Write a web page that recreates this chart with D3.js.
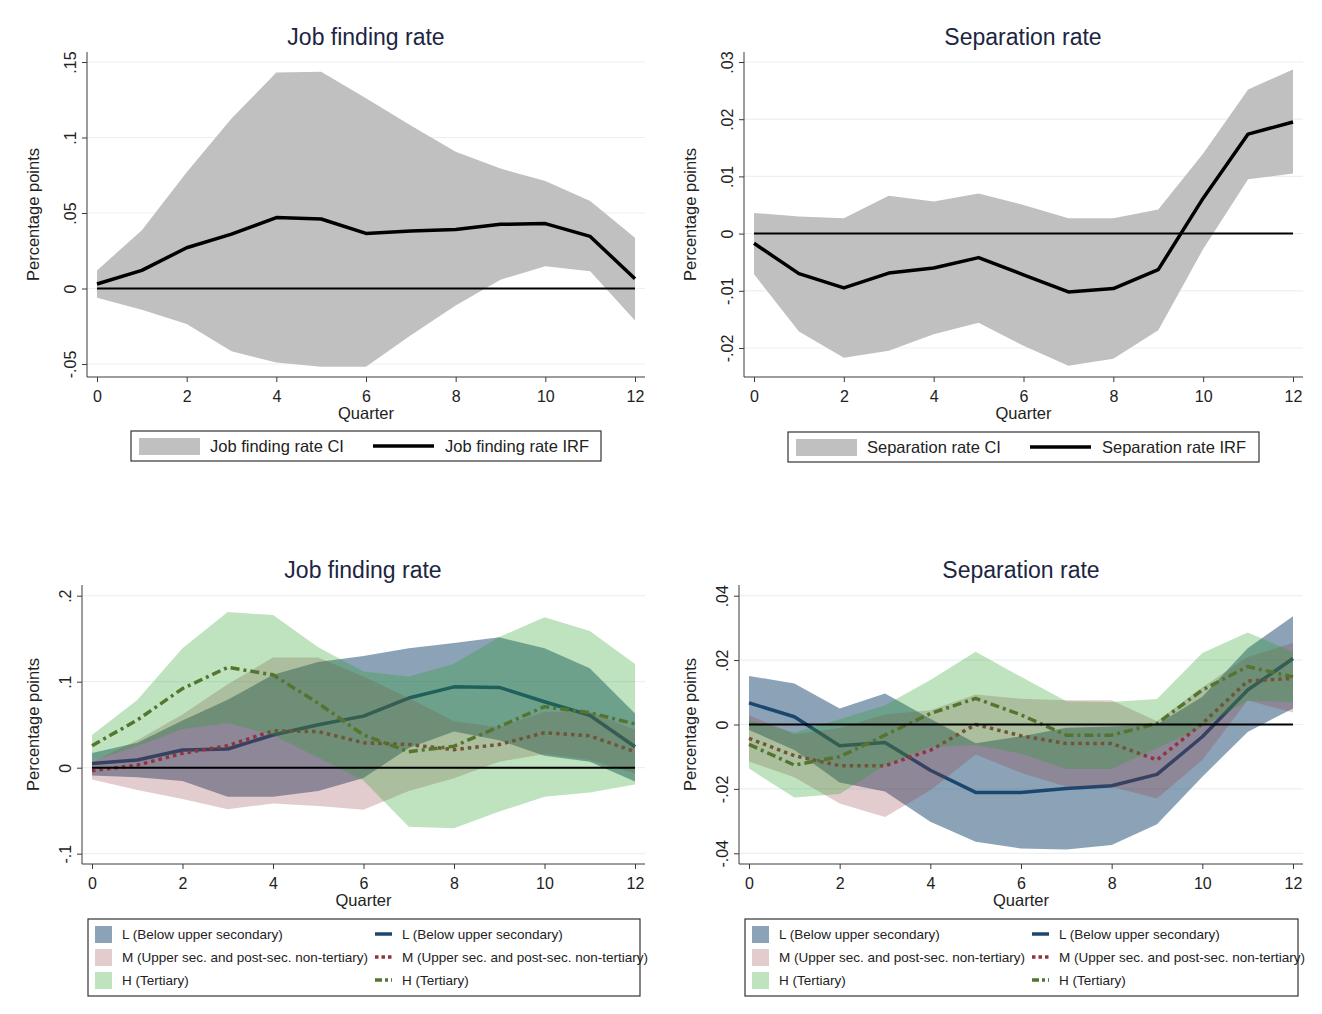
<!DOCTYPE html>
<html><head><meta charset="utf-8">
<script src="https://cdn.jsdelivr.net/npm/d3@7"></script>
<style>
html,body{margin:0;padding:0;background:#fff;}
text{font-family:"Liberation Sans",Arial,Helvetica,sans-serif;}
</style></head>
<body>
<svg id="chart" width="1322" height="1014"></svg>
<script>
// ---------------- DATA ----------------
const quarters = [0,1,2,3,4,5,6,7,8,9,10,11,12];
const xTicks = [0,2,4,6,8,10,12];

// Top-left: Job finding rate (aggregate)
const jfIRF = [0.003,0.012,0.027,0.036,0.047,0.046,0.0365,0.038,0.039,0.0425,0.043,0.0345,0.0064];
const jfLo  = [-0.0062,-0.014,-0.0235,-0.0416,-0.049,-0.0518,-0.0518,-0.031,-0.0113,0.0058,0.0148,0.0115,-0.0212];
const jfHi  = [0.012,0.0385,0.077,0.1126,0.143,0.1436,0.126,0.108,0.0905,0.0794,0.0712,0.058,0.0336];
const jfYTicks = [-0.05,0,0.05,0.1,0.15];
const jfYLabels = ["-.05","0",".05",".1",".15"];

// Top-right: Separation rate (aggregate)
const srIRF = [-0.0017,-0.007,-0.0095,-0.0069,-0.006,-0.0042,-0.0072,-0.0102,-0.0096,-0.0063,0.0062,0.0174,0.0195];
const srLo  = [-0.0071,-0.0171,-0.0217,-0.0205,-0.0176,-0.0156,-0.0196,-0.0231,-0.0219,-0.0169,-0.0027,0.0095,0.0105];
const srHi  = [0.0036,0.003,0.0027,0.0066,0.0056,0.007,0.005,0.0027,0.0027,0.0042,0.014,0.0252,0.0287];
const srYTicks = [-0.02,-0.01,0,0.01,0.02,0.03];
const srYLabels = ["-.02","-.01","0",".01",".02",".03"];

// Bottom-left: Job finding rate by education
const jfL   = [0.005,0.009,0.0205,0.0217,0.038,0.05,0.06,0.081,0.094,0.0934,0.0767,0.061,0.0244];
const jfLlo = [-0.009,-0.011,-0.0155,-0.0337,-0.0337,-0.027,-0.012,0.023,0.042,0.032,0.014,0.007,-0.016];
const jfLhi = [0.017,0.029,0.055,0.079,0.108,0.123,0.13,0.139,0.145,0.1516,0.139,0.1155,0.063];
const jfM   = [-0.0035,0.003,0.0167,0.0256,0.043,0.042,0.029,0.027,0.021,0.027,0.0407,0.037,0.0186];
const jfMlo = [-0.0136,-0.026,-0.0364,-0.0484,-0.0415,-0.0446,-0.049,-0.027,-0.0124,0.007,0.016,0.009,-0.0066];
const jfMhi = [0.0066,0.032,0.062,0.097,0.128,0.128,0.106,0.081,0.054,0.047,0.065,0.065,0.044];
const jfH   = [0.0256,0.0554,0.092,0.1167,0.108,0.075,0.038,0.0186,0.025,0.0477,0.071,0.064,0.0508];
const jfHlo = [0.008,0.025,0.045,0.052,0.038,0.012,-0.015,-0.0686,-0.0705,-0.051,-0.0337,-0.0287,-0.0194];
const jfHhi = [0.038,0.0787,0.139,0.181,0.1775,0.14,0.112,0.106,0.121,0.152,0.175,0.159,0.1205];
const jfEdYTicks = [-0.1,0,0.1,0.2];
const jfEdYLabels = ["-.1","0",".1",".2"];

// Bottom-right: Separation rate by education
const srL   = [0.0067,0.0024,-0.0066,-0.0056,-0.0142,-0.0211,-0.0211,-0.0199,-0.019,-0.0155,-0.0038,0.0107,0.0205];
const srLlo = [-0.0017,-0.0079,-0.018,-0.0208,-0.0302,-0.0364,-0.0385,-0.0388,-0.0374,-0.031,-0.0162,-0.0023,0.005];
const srLhi = [0.0151,0.0127,0.005,0.0096,0.0018,-0.0058,-0.0037,-0.001,-0.0006,0.0,0.0086,0.0237,0.0336];
const srM   = [-0.0043,-0.0097,-0.0128,-0.0128,-0.008,0.0,-0.0035,-0.0059,-0.0059,-0.011,0.0003,0.0135,0.0143];
const srMlo = [-0.0115,-0.0164,-0.0245,-0.0287,-0.0204,-0.0093,-0.015,-0.0193,-0.0193,-0.023,-0.011,0.0075,0.0037];
const srMhi = [0.0029,-0.003,-0.0011,0.0031,0.0044,0.0093,0.008,0.0075,0.0075,0.001,0.0116,0.021,0.0253];
const srH   = [-0.0062,-0.0126,-0.010,-0.0033,0.0034,0.0081,0.003,-0.0033,-0.0033,0.0003,0.0107,0.018,0.0148];
const srHlo = [-0.0137,-0.0227,-0.0216,-0.0126,-0.007,-0.0064,-0.009,-0.0138,-0.0138,-0.0073,-0.0008,0.0074,0.007];
const srHhi = [0.0013,-0.0025,0.0016,0.006,0.0138,0.0226,0.0148,0.0072,0.007,0.0079,0.0222,0.0286,0.0226];
const srEdYTicks = [-0.04,-0.02,0,0.02,0.04];
const srEdYLabels = ["-.04","-.02","0",".02",".04"];

const groupNames = ["L (Below upper secondary)","M (Upper sec. and post-sec. non-tertiary)","H (Tertiary)"];

// ---------------- STYLES ----------------
const svg = d3.select("#chart");
const titleColor = "#1c2541";
const axisColor = "#3a3a3a";
const gridColor = "#e9f1f3";
const grp = [
  {fill:"#1a476f", op:0.5,  stroke:"#1a476f", dash:null},
  {fill:"#90353b", op:0.25, stroke:"#90353b", dash:"3.5,4"},
  {fill:"#2ca02c", op:0.3,  stroke:"#55752f", dash:"9,4,3,4"}
];

function panel(cfg){
  const g = svg.append("g");
  const x = d3.scaleLinear().domain([0,12]).range([cfg.x0, cfg.x12]);
  const y = d3.scaleLinear().domain(cfg.yDom).range(cfg.yRange);
  // grid
  g.selectAll(".grid").data(cfg.yTicks).enter().append("line")
    .attr("x1", cfg.left).attr("x2", cfg.right)
    .attr("y1", d=>y(d)).attr("y2", d=>y(d))
    .attr("stroke", gridColor).attr("stroke-width",1.2);
  // y axis
  const yAxis = d3.axisLeft(y).tickValues(cfg.yTicks).tickSize(5)
      .tickFormat((d,i)=>cfg.yLabels[i]);
  const ya = g.append("g").attr("transform",`translate(${cfg.left},0)`).call(yAxis);
  ya.select(".domain").attr("d",`M0,${cfg.top}V${cfg.bottom}`).attr("stroke",axisColor);
  ya.selectAll(".tick line").attr("stroke",axisColor);
  ya.selectAll(".tick text")
    .attr("x",null).attr("dy",null)
    .attr("transform","translate(-11,0) rotate(-90)")
    .attr("text-anchor","middle")
    .attr("font-size",16).attr("fill","#222")
    .attr("font-family","Liberation Sans, Arial, sans-serif");
  // x axis
  const xAxis = d3.axisBottom(x).tickValues(xTicks).tickSize(5);
  const xa = g.append("g").attr("transform",`translate(0,${cfg.bottom})`).call(xAxis);
  xa.select(".domain").attr("d",`M${cfg.left},0H${cfg.right}`).attr("stroke",axisColor);
  xa.selectAll(".tick line").attr("stroke",axisColor);
  xa.selectAll(".tick text").attr("y",20).attr("dy","0.32em")
    .attr("font-size",16).attr("fill","#222")
    .attr("font-family","Liberation Sans, Arial, sans-serif");
  // labels
  g.append("text").attr("x",(cfg.x0+cfg.x12)/2).attr("y",cfg.bottom+42)
    .attr("text-anchor","middle").attr("font-size",16.5).attr("fill","#222").text("Quarter");
  g.append("text").attr("transform",`translate(${cfg.ylabX},${(cfg.top+cfg.bottom)/2}) rotate(-90)`)
    .attr("text-anchor","middle").attr("font-size",16.5).attr("fill","#222").text("Percentage points");
  g.append("text").attr("x",cfg.titleX).attr("y",cfg.titleY)
    .attr("text-anchor","middle").attr("font-size",23).attr("fill",titleColor).text(cfg.title);

  const area = d3.area().x((d,i)=>x(quarters[i])).y0(d=>y(d[0])).y1(d=>y(d[1]));
  const line = d3.line().x((d,i)=>x(quarters[i])).y(d=>y(d));
  const zero = quarters.map(()=>0);

  if(cfg.type === "single"){
    g.append("path").datum(cfg.lo.map((v,i)=>[v,cfg.hi[i]])).attr("d",area)
      .attr("fill","#c0c0c0");
    g.append("path").datum(zero).attr("d",line).attr("fill","none")
      .attr("stroke","#000").attr("stroke-width",2);
    g.append("path").datum(cfg.irf).attr("d",line).attr("fill","none")
      .attr("stroke","#000").attr("stroke-width",3.5).attr("stroke-linejoin","round");
    // legend
    const L = cfg.leg;
    g.append("rect").attr("x",L.x).attr("y",L.y).attr("width",L.w).attr("height",30)
      .attr("fill","#fff").attr("stroke","#333").attr("stroke-width",1.2);
    g.append("rect").attr("x",L.x+8).attr("y",L.y+7).attr("width",61).attr("height",17).attr("fill","#c0c0c0");
    g.append("text").attr("x",L.x+79).attr("y",L.y+21).attr("font-size",16.5).attr("fill","#222").text(cfg.ciName);
    g.append("line").attr("x1",L.lineX).attr("x2",L.lineX+61).attr("y1",L.y+15).attr("y2",L.y+15)
      .attr("stroke","#000").attr("stroke-width",3.5);
    g.append("text").attr("x",L.lineX+72).attr("y",L.y+21).attr("font-size",16.5).attr("fill","#222").text(cfg.irfName);
  } else {
    cfg.groups.forEach((s,k)=>{
      g.append("path").datum(s.lo.map((v,i)=>[v,s.hi[i]])).attr("d",area)
        .attr("fill",grp[k].fill).attr("fill-opacity",grp[k].op);
      const p = g.append("path").datum(s.irf).attr("d",line).attr("fill","none")
        .attr("stroke",grp[k].stroke).attr("stroke-width",3.5).attr("stroke-linejoin","round");
      if(grp[k].dash) p.attr("stroke-dasharray",grp[k].dash);
    });
    g.append("path").datum(zero).attr("d",line).attr("fill","none")
      .attr("stroke","#000").attr("stroke-width",2);
    const L = cfg.leg;
    g.append("rect").attr("x",L.x).attr("y",L.y).attr("width",L.w).attr("height",77)
      .attr("fill","none").attr("stroke","#333").attr("stroke-width",1.2);
    groupNames.forEach((nm,k)=>{
      const ry = L.y + 15 + k*23;
      g.append("rect").attr("x",L.x+7).attr("y",ry-8).attr("width",17).attr("height",17)
        .attr("fill",grp[k].fill).attr("fill-opacity",grp[k].op);
      g.append("text").attr("x",L.x+34).attr("y",ry+5).attr("font-size",13.5).attr("fill","#222").text(nm);
      const ln = g.append("line").attr("x1",L.lineX).attr("x2",L.lineX+17).attr("y1",ry).attr("y2",ry)
        .attr("stroke",grp[k].stroke).attr("stroke-width",3.5);
      if(grp[k].dash) ln.attr("stroke-dasharray", k===1 ? "3.5,3" : "7,3,3,3");
      g.append("text").attr("x",L.lineX+27).attr("y",ry+5).attr("font-size",13.5).attr("fill","#222").text(nm);
    });
  }
}

panel({type:"single", title:"Job finding rate", titleX:366, titleY:45,
  left:87, right:645, top:52, bottom:377, x0:97, x12:635,
  yDom:[-0.05,0.15], yRange:[364,62], yTicks:jfYTicks, yLabels:jfYLabels, ylabX:39,
  lo:jfLo, hi:jfHi, irf:jfIRF, ciName:"Job finding rate CI", irfName:"Job finding rate IRF",
  leg:{x:131,y:431,w:470,lineX:373}});

panel({type:"single", title:"Separation rate", titleX:1023, titleY:45,
  left:744, right:1303, top:52, bottom:377, x0:754, x12:1293,
  yDom:[-0.02,0.03], yRange:[348,62], yTicks:srYTicks, yLabels:srYLabels, ylabX:696,
  lo:srLo, hi:srHi, irf:srIRF, ciName:"Separation rate CI", irfName:"Separation rate IRF",
  leg:{x:788,y:432,w:471,lineX:1030}});

panel({type:"groups", title:"Job finding rate", titleX:363, titleY:578,
  left:82, right:645, top:585, bottom:864, x0:92, x12:635,
  yDom:[-0.1,0.2], yRange:[853.7,595.7], yTicks:jfEdYTicks, yLabels:jfEdYLabels, ylabX:39,
  groups:[{lo:jfLlo,hi:jfLhi,irf:jfL},{lo:jfMlo,hi:jfMhi,irf:jfM},{lo:jfHlo,hi:jfHhi,irf:jfH}],
  leg:{x:88,y:919,w:552,lineX:375}});

panel({type:"groups", title:"Separation rate", titleX:1021, titleY:578,
  left:739, right:1303, top:585, bottom:864, x0:749, x12:1293,
  yDom:[-0.04,0.04], yRange:[853.3,595.7], yTicks:srEdYTicks, yLabels:srEdYLabels, ylabX:696,
  groups:[{lo:srLlo,hi:srLhi,irf:srL},{lo:srMlo,hi:srMhi,irf:srM},{lo:srHlo,hi:srHhi,irf:srH}],
  leg:{x:745,y:919,w:553,lineX:1032}});
</script>
</body></html>
